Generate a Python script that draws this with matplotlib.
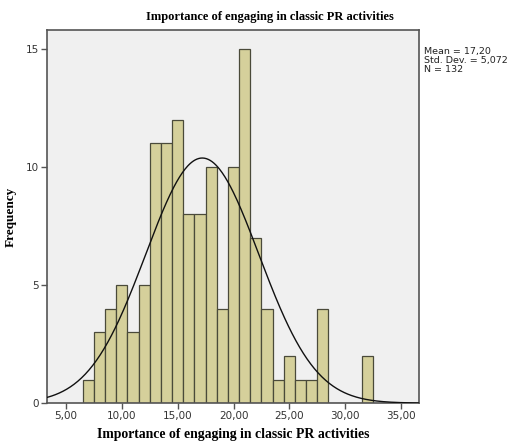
import numpy as np
import matplotlib
matplotlib.use("Agg")
import matplotlib.pyplot as plt

# Histogram counts, one bin per integer score (bin width 1)
bin_centers = [7, 8, 9, 10, 11, 12, 13, 14, 15, 16, 17, 18, 19, 20,
               21, 22, 23, 24, 25, 26, 27, 28, 29, 30, 31, 32]
counts = [1, 3, 4, 5, 3, 5, 11, 11, 12, 8, 8, 10, 4, 10,
          15, 7, 4, 1, 2, 1, 1, 4, 0, 0, 0, 2]
x_ticks = [5, 10, 15, 20, 25, 30, 35]
y_ticks = [0, 5, 10, 15]

mean = 17.20
std = 5.072
n = 132


def comma(v, digits):
    return f"{v:.{digits}f}".replace(".", ",")


fig = plt.figure(figsize=(5.12, 4.43), dpi=100)
ax = fig.add_axes([0.092, 0.090, 0.726, 0.842])
ax.set_facecolor("#f0f0f0")

ax.bar(bin_centers, counts, width=1.0, color="#d5d09b",
       edgecolor="#4a4a3a", linewidth=0.9, zorder=2)

# Normal curve scaled to counts
xs = np.linspace(3.3, 36.6, 400)
pdf = n * 1.0 / (std * np.sqrt(2 * np.pi)) * np.exp(-0.5 * ((xs - mean) / std) ** 2)
ax.plot(xs, pdf, color="#111111", linewidth=1.0, zorder=3)

ax.set_xlim(3.3, 36.6)
ax.set_ylim(0, 15.8)
ax.set_xticks(x_ticks)
ax.set_xticklabels([comma(v, 2) for v in x_ticks])
ax.set_yticks(y_ticks)
ax.tick_params(axis="both", direction="out", length=4, width=1,
               color="#555555", labelsize=7.5, labelcolor="#333333", pad=2)
for side in ["left", "bottom", "top", "right"]:
    ax.spines[side].set_color("#555555")
    ax.spines[side].set_linewidth(1.2)

serif = ["Liberation Serif", "DejaVu Serif"]
fig.text(0.527, 0.962, "Importance of engaging in classic PR activities",
         fontsize=9, fontweight="bold", family=serif, ha="center", va="center")
ax.set_xlabel("Importance of engaging in classic PR activities",
              fontsize=9.9, fontweight="bold", family=serif, labelpad=5)
ax.set_ylabel("Frequency", fontsize=9.5, fontweight="bold", family=serif, labelpad=6)

fig.text(0.828, 0.893,
         f"Mean = {comma(mean, 2)}\nStd. Dev. = {comma(std, 3)}\nN = {n}",
         fontsize=6.8, va="top", ha="left", color="#222222", linespacing=1.0)

fig.savefig("out.png", dpi=100)
